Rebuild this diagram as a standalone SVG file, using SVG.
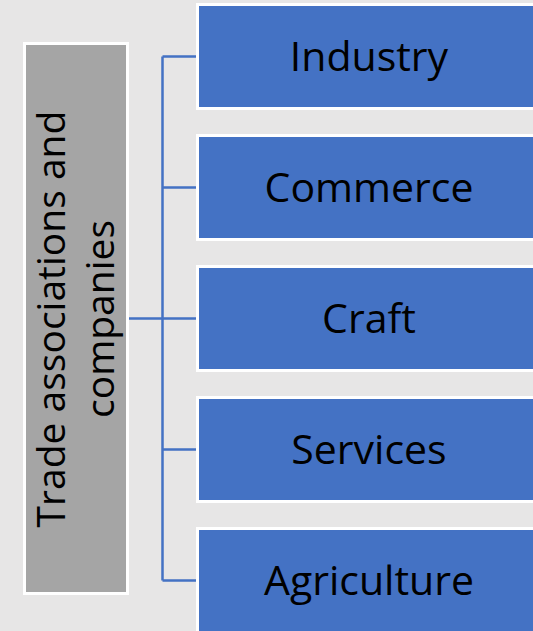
<svg xmlns="http://www.w3.org/2000/svg" width="533" height="631" viewBox="0 0 533 631">
<style>
.bg{fill:#E7E6E6}
.root{fill:#A5A5A5;stroke:#FFFFFF;stroke-width:3}
.box{fill:#4472C4;stroke:#FFFFFF;stroke-width:3}
.lbl{font-family:"Open Sans","Liberation Sans",sans-serif;font-size:41px;fill:#000000;text-anchor:middle}
.rlbl{font-family:"Open Sans","Liberation Sans",sans-serif;font-size:39px;fill:#000000;text-anchor:middle}
.conn{fill:none;stroke:#4472C4;stroke-width:2.5}
</style>
<rect class="bg" x="0" y="0" width="533" height="631"/>
<g id="connectors">
<path class="conn" d="M162.5,56.5 V580.5 M162.5,56.5 H197 M162.5,187.5 H197 M162.5,449.5 H197 M162.5,580.5 H197 M129,318.5 H197"/>
</g>
<g id="node-root">
<rect class="root" x="24.5" y="43.5" width="103" height="550"/>
<text class="rlbl" transform="rotate(-90)" x="-319" y="65">Trade associations and</text>
<text class="rlbl" transform="rotate(-90)" x="-319" y="114">companies</text>
</g>
<g id="node-industry">
<rect class="box" x="197.5" y="4.5" width="346" height="104"/>
<text class="lbl" x="369" y="71">Industry</text>
</g>
<g id="node-commerce">
<rect class="box" x="197.5" y="135.5" width="346" height="104"/>
<text class="lbl" x="369" y="202">Commerce</text>
</g>
<g id="node-craft">
<rect class="box" x="197.5" y="266.5" width="346" height="104"/>
<text class="lbl" x="369" y="333">Craft</text>
</g>
<g id="node-services">
<rect class="box" x="197.5" y="397.5" width="346" height="104"/>
<text class="lbl" x="369" y="464">Services</text>
</g>
<g id="node-agriculture">
<rect class="box" x="197.5" y="528.5" width="346" height="104"/>
<text class="lbl" x="369" y="595">Agriculture</text>
</g>
</svg>
